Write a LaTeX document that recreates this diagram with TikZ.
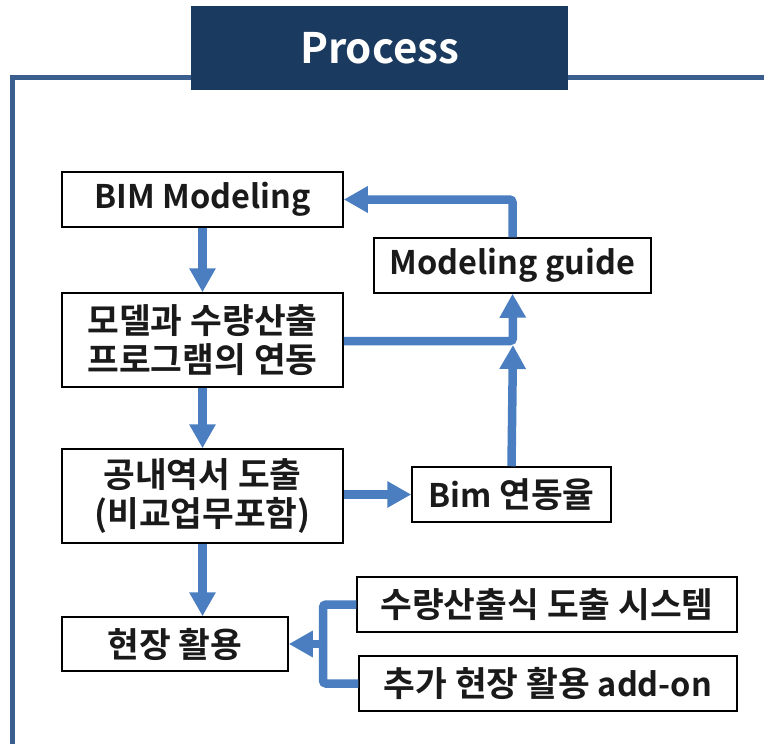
\documentclass[tikz,border=0pt]{standalone}
\usepackage{fontspec}
\setmainfont{Noto Sans CJK KR}[BoldFont={* Bold}]
\usetikzlibrary{arrows.meta}
\definecolor{navy}{HTML}{1B3A5F}
\definecolor{framec}{HTML}{3A5F8E}
\definecolor{arrc}{HTML}{4A7EC0}
\definecolor{txt}{HTML}{1A1A1A}
\newcommand{\lt}[1]{{\fontsize{32.5}{39}\selectfont #1}}
\tikzset{
  box/.style={draw=black, line width=1.5pt, fill=white, inner sep=0pt, text=txt,
    font=\bfseries\fontsize{34.5}{39}\selectfont, align=center},
  flow/.style={draw=arrc, line width=8.5pt, rounded corners=3pt},
  flowarr/.style={flow, -{Triangle[length=24pt,width=25pt]}},
}
\begin{document}
\begin{tikzpicture}[x=1pt,y=-1pt]
\useasboundingbox (0,0) rectangle (764,744);
% frame
\draw[framec, line width=5pt] (12.5,744) -- (12.5,77.5) -- (764,77.5);
% header
\node[fill=navy, minimum width=377pt, minimum height=84pt, inner sep=0pt,
  text=white, font=\bfseries\fontsize{42}{50}\selectfont] (hdr) at (379.5,48) {\raisebox{-3pt}{Process}};
% boxes
\node[box, minimum width=281pt, minimum height=55pt] (bim) at (202.5,199.5) {\lt{BIM Modeling}};
\node[box, minimum width=277pt, minimum height=55pt] (guide) at (512.5,265.5) {\lt{Modeling guide}};
\node[box, minimum width=281pt, minimum height=94pt] (link) at (202.5,340) {모델과 수량산출\\프로그램의 연동};
\node[box, minimum width=281pt, minimum height=94pt] (est) at (202.5,496) {공내역서 도출\\(비교업무포함)};
\node[box, minimum width=199pt, minimum height=55pt] (rate) at (511.5,494.5) {\lt{Bim} 연동율};
\node[box, minimum width=226pt, minimum height=54pt] (site) at (175,644) {현장 활용};
\node[box, minimum width=380pt, minimum height=55pt] (sys) at (547,604.5) {수량산출식 도출 시스템};
\node[box, minimum width=378pt, minimum height=55pt] (addon) at (548,683.5) {추가 현장 활용 \lt{add-on}};
% junction coordinates
\coordinate (j1) at (513,341);
\coordinate (j1b) at (513,345);
\coordinate (j2) at (323,644);
% connectors
\draw[flowarr] (bim.south) -- (link.north);
\draw[flowarr] (link.south) -- (est.north);
\draw[flowarr] (est.south) -- (est.south |- site.north);
\draw[flowarr] (est.east |- rate.west) -- (rate.west);
\draw[flowarr] (rate.north) -- (j1b);
\draw[flowarr] (link.east |- j1) -- (j1) -- (guide.south);
\draw[flowarr] (guide.north) -- (guide.north |- bim.east) -- (bim.east);
\draw[flow] (sys.west) -- (j2 |- sys.west) -- (j2);
\draw[flow] (addon.west) -- (j2 |- addon.west) -- (j2);
\draw[flowarr] (j2) -- (site.east);
\end{tikzpicture}
\end{document}
